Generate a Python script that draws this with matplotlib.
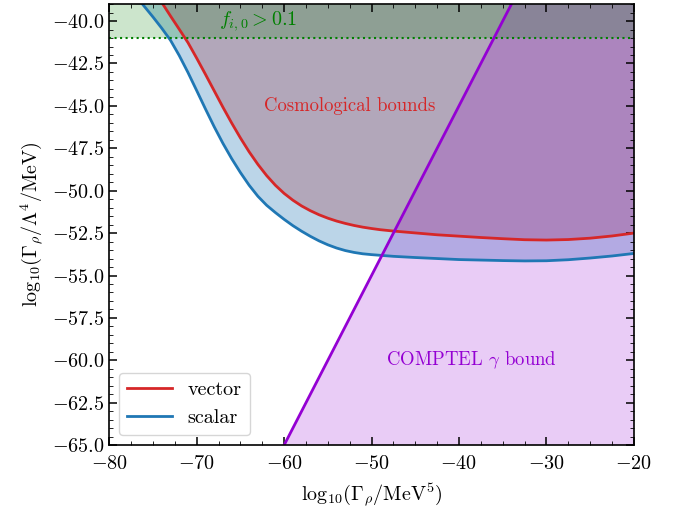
import numpy as np
import matplotlib
matplotlib.use("Agg")
import matplotlib.pyplot as plt
from matplotlib.ticker import MultipleLocator

plt.rcParams.update({
    "font.family": "serif",
    "font.serif": ["cmr10"],
    "mathtext.fontset": "cm",
    "axes.formatter.use_mathtext": True,
    "font.size": 14.5,
    "axes.linewidth": 1.2,
    "xtick.direction": "in",
    "ytick.direction": "in",
    "xtick.top": True,
    "ytick.right": True,
    "xtick.major.size": 6,
    "ytick.major.size": 6,
    "xtick.minor.size": 3,
    "ytick.minor.size": 3,
    "xtick.major.width": 1.1,
    "ytick.major.width": 1.1,
    "xtick.major.pad": 7,
})

# cosmological bound, vector mediator
vec_logG = [-75.0, -74.0, -73.0, -72.0, -71.0, -70.0, -69.0, -68.0, -67.0, -66.0,
            -65.0, -64.0, -63.0, -62.0, -61.0, -60.0, -59.0, -58.0, -57.0, -56.0,
            -55.0, -54.0, -53.0, -52.0, -51.0, -50.0, -49.0, -47.5, -45.0, -42.5,
            -40.0, -37.5, -35.0, -32.5, -30.0, -27.5, -25.0, -22.5, -20.0]
vec_bound = [-38.20, -38.90, -39.70, -40.48, -41.27, -42.19, -43.14, -44.11, -45.08, -46.01,
             -46.89, -47.71, -48.45, -49.11, -49.68, -50.16, -50.56, -50.90, -51.18, -51.42,
             -51.62, -51.79, -51.93, -52.05, -52.15, -52.23, -52.30, -52.38, -52.49, -52.60,
             -52.68, -52.76, -52.83, -52.89, -52.91, -52.88, -52.80, -52.67, -52.50]

# cosmological bound, scalar mediator
sca_logG = [-77.0, -76.0, -75.0, -74.0, -73.0, -72.0, -71.0, -70.0, -69.0, -68.0,
            -67.0, -66.0, -65.0, -64.0, -63.0, -62.0, -61.0, -60.0, -59.0, -58.0,
            -57.0, -56.0, -55.0, -54.0, -53.0, -52.0, -51.0, -50.0, -49.0, -47.5,
            -45.0, -42.5, -40.0, -37.5, -35.0, -32.5, -30.0, -27.5, -25.0, -22.5,
            -20.0]
sca_bound = [-38.49, -39.13, -39.76, -40.42, -41.13, -42.03, -43.03, -44.10, -45.18, -46.23,
             -47.21, -48.11, -48.93, -49.68, -50.33, -50.86, -51.29, -51.69, -52.06, -52.39,
             -52.69, -52.96, -53.19, -53.38, -53.53, -53.64, -53.72, -53.77, -53.81, -53.87,
             -53.94, -54.00, -54.06, -54.09, -54.12, -54.14, -54.13, -54.07, -53.97, -53.85,
             -53.70]

# COMPTEL gamma-ray line
comptel_logG = [-60.0, -20.0]
comptel_bound = [-65.0, -25.0]

f_thresh = -41.0

xlim = (-80, -20)
ylim = (-65, -39)

fig = plt.figure(figsize=(6.83, 5.14), dpi=100)
ax = fig.add_axes([0.16, 0.134, 0.768, 0.858])

ax.fill_between(vec_logG, vec_bound, ylim[1], color="tab:red", alpha=0.3, lw=0)
ax.fill_between(sca_logG, sca_bound, ylim[1], color="tab:blue", alpha=0.3, lw=0)
ax.plot(vec_logG, vec_bound, color="tab:red", lw=2, label="vector")
ax.plot(sca_logG, sca_bound, color="tab:blue", lw=2, label="scalar")

ax.fill_between(comptel_logG, ylim[0], comptel_bound, color="darkviolet", alpha=0.2, lw=0)
ax.plot(comptel_logG, comptel_bound, color="darkviolet", lw=2)

ax.axhspan(f_thresh, ylim[1], color="green", alpha=0.2, lw=0)
ax.axhline(f_thresh, color="green", ls=":", lw=1.5)

ax.text(-52.5, -45.0, "Cosmological bounds", color="tab:red", ha="center", va="center", fontsize=13.5)
ax.text(-38.6, -60.0, r"COMPTEL $\gamma$ bound", color="darkviolet", ha="center", va="center", fontsize=13.5)
ax.text(-63.0, -40.0, r"$f_{i,0} > 0.1$", color="green", ha="center", va="center")

ax.set_xlim(*xlim)
ax.set_ylim(*ylim)
ax.xaxis.set_major_locator(MultipleLocator(10))
ax.xaxis.set_minor_locator(MultipleLocator(2.5))
ax.yaxis.set_major_locator(MultipleLocator(2.5))
ax.yaxis.set_minor_locator(MultipleLocator(0.5))
ax.set_xlabel(r"$\mathrm{log}_{10}(\Gamma_\rho/\mathrm{MeV}^5)$", labelpad=6)
ax.set_ylabel(r"$\mathrm{log}_{10}(\Gamma_\rho/\Lambda^4/\mathrm{MeV})$")
ax.legend(loc="lower left", handlelength=2.2)

fig.savefig("out.png", dpi=100)
